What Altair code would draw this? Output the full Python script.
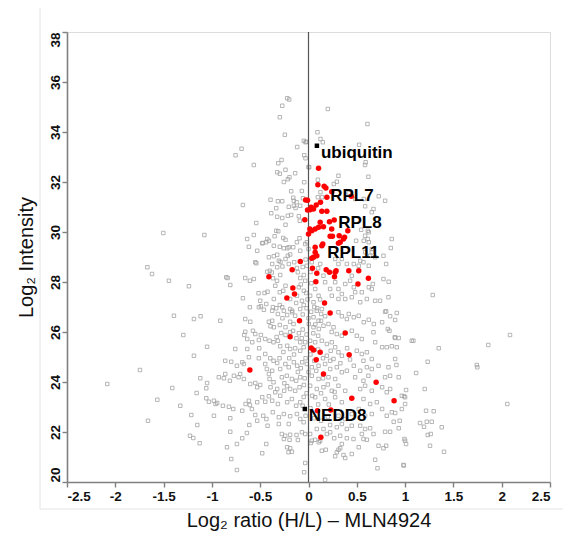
import altair as alt
import pandas as pd

# ---------------- data (log2 ratio, log2 intensity) ----------------
gray_far_left = [
    (-1.668, 28.59), (-1.62, 28.32), (-1.445, 28.05), (-1.238, 27.83), (-1.393, 26.65),
    (-1.186, 26.52), (-1.117, 26.63), (-0.913, 26.45), (-1.296, 25.88), (-1.05, 25.41),
    (-1.186, 25.05), (-1.745, 24.48), (-2.083, 23.92), (-1.41, 23.76), (-1.565, 23.29),
    (-1.327, 23.05), (-1.662, 22.45), (-1.213, 22.68), (-1.151, 22.28), (-1.227, 21.85),
    (-1.193, 21.76), (-1.127, 21.55), (-1.158, 23.56), (-1.05, 23.96), (-1.031, 23.21),
    (-0.962, 23.12), (-0.979, 22.65), (-0.741, 24.65), (-0.634, 25.72), (-0.582, 25.59),
    (-0.655, 26.52), (-0.837, 28.16),
]
gray_top = [
    (-0.22, 35.35), (-0.2, 35.3), (-0.272, 35.05), (-0.297, 34.59), (-0.245, 33.89),
    (-0.117, 33.4), (-0.693, 33.33), (-0.755, 33.07), (-0.566, 32.68), (-0.313, 32.75),
    (-0.279, 32.88), (-0.238, 32.49), (-0.324, 32.39), (-0.297, 32.33), (-0.197, 32.19),
    (-0.214, 32.11), (-0.255, 32.0), (-0.179, 31.63), (-0.158, 31.37), (-0.152, 31.25),
    (-0.393, 31.29), (-0.317, 31.23), (-0.272, 31.23), (-0.679, 31.08), (-0.334, 30.95),
    (-0.204, 31.01), (-0.134, 30.96), (-0.386, 30.75), (-0.324, 30.61), (-0.272, 30.56),
    (-0.214, 30.65), (-0.179, 30.68), (-0.238, 30.29), (-0.1, 30.63), (-0.541, 30.36),
    (-1.503, 29.96), (-1.078, 29.88), (-0.566, 29.88), (-0.635, 29.72), (-0.617, 29.41),
    (-0.531, 29.25), (-0.479, 29.55), (-0.437, 29.59), (-0.427, 29.72), (-0.334, 30.05),
    (-0.313, 30.03), (-0.351, 29.83), (-0.262, 29.76), (-0.238, 29.69), (-0.359, 29.45),
    (-0.297, 29.41), (-0.255, 29.35), (-0.22, 29.35), (-0.158, 29.39), (-0.093, 29.75),
    (-0.551, 28.79), (-0.54, 28.75), (-0.41, 28.99), (-0.359, 29.03), (-0.324, 29.09),
    (-0.307, 28.85), (-0.29, 28.8), (-0.214, 29.05), (-0.19, 29.1), (-0.148, 28.79),
    (-0.427, 28.41), (-0.4, 28.45), (-0.38, 28.38), (-0.324, 28.59), (-0.27, 28.62),
]
gray_top_right = [
    (-0.049, 33.65), (-0.031, 33.59), (-0.031, 32.95), (-0.044, 31.99), (0.0, 32.6),
    (-0.069, 31.64), (-0.058, 31.35), (0.2, 34.92), (0.61, 34.32), (0.093, 33.99),
    (0.124, 33.72), (0.148, 33.59), (0.524, 33.49), (-0.024, 33.61), (0.592, 32.79),
    (0.585, 32.68), (0.007, 32.59), (0.31, 32.25), (0.62, 32.21), (0.293, 32.01),
    (0.262, 31.92), (0.097, 32.09), (0.124, 31.59), (0.141, 31.39), (0.097, 31.39),
    (0.483, 31.32), (0.572, 31.32), (0.727, 31.43), (0.793, 31.25), (0.417, 31.56),
    (-0.044, 33.07), (-0.138, 32.35), (0.862, 29.72), (0.852, 29.36), (0.804, 28.72),
    (0.614, 30.05), (0.613, 29.72), (0.655, 29.32), (0.638, 29.05), (0.493, 29.65),
]
gray_mid_left = [
    (-0.152, 31.05), (-0.124, 31.19), (-0.086, 31.05), (-0.09, 30.45), (-0.41, 29.65),
    (-0.472, 29.56), (-0.204, 29.39), (-0.12, 29.59), (-0.034, 29.52), (-0.086, 29.25),
    (-0.376, 28.72), (-0.238, 28.92), (-0.204, 28.72), (-0.12, 28.56), (-0.11, 28.39),
    (-0.851, 28.19), (-0.81, 27.88), (-0.655, 28.16), (-0.607, 28.05), (-0.566, 28.12),
    (-0.368, 28.15), (-0.326, 28.05), (-0.344, 27.85), (-0.293, 28.28), (-0.086, 28.16),
    (-0.034, 28.05), (-0.048, 28.28), (-0.238, 27.85), (-0.262, 27.65), (-0.297, 27.59),
    (-0.1, 27.79), (-0.048, 27.65), (-0.024, 27.56), (-0.517, 27.55), (-0.424, 27.61),
    (-0.455, 27.56), (-0.679, 27.35), (-0.5, 27.25), (-0.493, 27.03), (-0.437, 27.12),
    (-0.359, 27.32), (-0.297, 27.08), (-0.272, 26.99), (-0.368, 26.99), (-0.334, 26.95),
    (-0.19, 27.32), (-0.128, 27.16), (-0.068, 27.25), (-0.05, 27.08), (-0.19, 26.92),
    (-0.17, 26.85), (-0.086, 26.92), (-0.514, 26.99), (-0.607, 26.99),
]
gray_low_left = [
    (-0.603, 26.41), (-0.462, 26.89), (-0.376, 26.85), (-0.317, 26.72), (-0.255, 26.85),
    (-0.221, 26.68), (-0.169, 26.79), (-0.138, 26.65), (-0.41, 26.41), (-0.376, 26.45),
    (-0.297, 26.28), (-0.393, 26.23), (-0.359, 26.19), (-0.19, 26.41), (-0.155, 26.32),
    (-0.238, 26.19), (-0.655, 26.01), (-0.575, 26.05), (-0.551, 25.92), (-0.665, 25.88),
    (-0.493, 25.88), (-0.448, 25.72), (-0.514, 25.68), (-0.403, 25.65), (-0.362, 25.59),
    (-0.317, 25.65), (-0.283, 25.96), (-0.238, 25.88), (-0.19, 25.99), (-0.124, 25.75),
    (-0.086, 25.59), (-0.034, 25.59), (-0.05, 25.39), (-0.086, 25.25), (-0.293, 25.43),
    (-0.221, 25.45), (-0.19, 25.32), (-0.138, 25.35), (-0.758, 25.32), (-0.634, 25.32),
    (-0.51, 25.35), (-0.617, 24.99), (-0.514, 24.95), (-0.862, 24.85), (-0.8, 24.81),
    (-0.686, 24.79), (-0.669, 24.72), (-0.448, 25.12), (-0.396, 24.95), (-0.362, 24.85),
    (-0.324, 24.76), (-0.448, 24.72), (-0.431, 24.52), (-0.376, 24.45), (-0.41, 24.32),
    (-0.293, 24.52), (-0.24, 24.72), (-0.204, 24.59), (-0.152, 24.79), (-0.117, 24.65),
    (-0.065, 24.79), (-0.707, 24.32), (-0.724, 24.19), (-0.669, 24.12), (-0.772, 24.25),
    (-0.862, 24.32), (-0.876, 24.15), (-0.928, 24.19), (-0.814, 24.05), (-1.12, 24.15),
    (-1.058, 23.75), (-0.603, 23.92), (-0.551, 23.96), (-0.531, 23.79), (-0.5, 23.88),
    (-0.403, 24.12), (-0.362, 23.99), (-0.393, 23.79), (-0.324, 23.72), (-0.276, 24.19),
    (-0.224, 24.25), (-0.172, 24.12), (-0.128, 24.05), (-0.086, 24.19), (-0.221, 23.83),
    (-0.19, 23.72), (-0.138, 23.65), (-0.093, 23.79), (-0.048, 23.88), (-1.058, 23.35),
    (-0.979, 23.25), (-0.945, 23.16), (-0.886, 23.05), (-0.824, 23.01), (-0.779, 22.92),
    (-0.686, 22.85), (-0.617, 23.25), (-0.607, 23.08), (-0.651, 23.12), (-0.531, 23.19),
    (-0.479, 23.39), (-0.448, 23.21), (-0.41, 23.43), (-0.376, 23.25), (-0.344, 23.59),
    (-0.293, 23.45), (-0.252, 23.65), (-0.317, 23.12), (-0.221, 23.19), (-0.172, 23.32),
    (-0.128, 23.05), (-0.086, 23.19), (-0.81, 22.55), (-0.586, 22.92), (-0.551, 22.68),
    (-0.469, 22.65), (-0.436, 22.52), (-0.369, 22.79), (-0.307, 22.59), (-0.255, 22.72),
    (-0.19, 22.63), (-0.12, 22.72), (-0.086, 22.52),
]
gray_bottom = [
    (-0.81, 22.01), (-0.686, 21.75), (-0.638, 21.96), (-0.844, 21.39), (-0.741, 21.52),
    (-0.8, 20.92), (-0.741, 20.48), (-0.613, 22.28), (-0.531, 22.45), (-0.424, 22.25),
    (-0.437, 21.52), (-0.479, 21.15), (-0.307, 22.32), (-0.204, 22.32), (-0.276, 21.92),
    (-0.241, 21.85), (-0.19, 21.89), (-0.255, 21.72), (-0.196, 21.69), (-0.11, 21.68),
    (-0.124, 21.88), (-0.221, 21.39), (-0.19, 21.35), (-0.207, 21.19), (-0.172, 21.21),
    (-0.05, 22.39), (-0.068, 21.99), (-0.034, 21.92), (-0.034, 20.76), (-0.045, 20.39),
    (0.017, 21.92), (0.034, 21.65), (0.069, 21.69), (0.024, 21.56), (0.107, 21.59),
    (0.121, 21.65), (0.172, 20.09), (0.086, 22.12), (0.155, 22.12), (0.19, 21.92),
    (0.224, 21.99), (0.138, 21.25), (0.179, 21.29), (0.31, 21.29), (0.328, 21.35),
    (0.293, 21.19), (0.276, 21.03), (0.362, 21.08), (0.38, 20.96), (0.448, 21.12),
    (0.52, 21.39), (0.224, 22.28), (0.293, 22.19), (0.345, 22.32), (0.397, 22.12),
    (0.448, 22.25), (0.266, 21.75), (0.328, 21.85), (0.397, 21.75), (0.345, 21.52),
    (0.466, 21.72), (0.535, 22.25), (0.586, 22.12), (0.638, 22.15), (0.552, 21.92),
    (0.569, 21.72), (0.604, 21.69), (0.673, 21.92), (0.725, 21.45), (0.776, 21.35),
    (0.69, 20.89), (0.714, 20.55), (0.793, 22.01), (0.845, 22.01), (0.934, 22.15),
    (0.882, 22.41), (0.944, 22.45), (1.0, 21.65), (1.01, 21.52), (0.986, 20.66),
    (1.155, 22.36), (1.234, 21.88),
]
gray_low_right = [
    (0.028, 26.81), (0.086, 26.85), (0.131, 26.72), (0.172, 26.63), (0.052, 26.59),
    (0.104, 26.45), (0.31, 26.79), (0.345, 26.63), (0.417, 26.72), (0.469, 26.59),
    (0.52, 26.65), (0.397, 26.52), (0.572, 26.39), (0.624, 26.49), (0.676, 26.32),
    (0.762, 26.39), (0.793, 26.81), (0.003, 26.32), (0.052, 26.19), (0.107, 26.12),
    (0.155, 26.25), (0.207, 26.32), (0.259, 26.19), (0.293, 25.92), (0.345, 25.85),
    (0.448, 26.05), (0.5, 25.85), (0.552, 25.72), (0.69, 25.59), (0.762, 25.39),
    (0.81, 25.39), (0.862, 25.43), (0.673, 25.99), (0.893, 25.79), (1.069, 25.65),
    (0.914, 25.39), (0.017, 25.65), (0.069, 25.59), (0.138, 25.65), (0.19, 25.52),
    (0.241, 25.59), (0.276, 25.39), (0.31, 25.19), (0.345, 25.05), (0.5, 25.25),
    (0.552, 25.12), (0.604, 25.19), (0.655, 24.92), (0.569, 24.85), (0.19, 25.05),
    (0.224, 24.85), (0.259, 24.92), (-0.017, 24.72), (0.034, 24.59), (0.104, 24.65),
    (0.172, 24.72), (0.224, 24.52), (0.293, 24.59), (0.345, 24.39), (0.397, 24.45),
    (0.469, 24.65), (0.535, 24.45), (0.604, 24.59), (0.655, 24.52), (0.725, 24.65),
    (0.828, 24.59), (0.897, 24.92), (0.034, 24.25), (0.104, 24.12), (0.207, 24.19),
    (0.276, 24.12), (0.483, 24.19), (0.569, 24.05), (0.62, 24.25), (0.793, 24.19),
    (0.845, 24.25), (0.017, 23.85), (0.086, 23.72), (0.155, 23.79), (0.241, 23.65),
    (0.31, 23.85), (0.38, 23.65), (0.535, 23.72), (0.586, 23.85), (0.655, 23.65),
    (0.762, 23.79), (0.81, 23.59), (0.845, 23.72), (0.966, 23.45), (1.0, 23.39),
    (0.069, 23.39), (0.172, 23.32), (0.276, 23.39), (0.345, 23.19), (0.569, 23.32),
    (0.638, 23.12), (0.707, 23.19), (0.52, 22.92), (0.586, 22.65), (0.655, 22.72),
    (0.762, 22.92), (0.81, 22.65), (0.862, 22.79), (0.966, 22.92), (0.31, 22.65),
    (0.38, 22.52), (0.448, 22.72),
]
gray_far_right = [
    (1.286, 27.48), (0.83, 28.01), (0.69, 27.25), (0.741, 27.25), (0.666, 27.92),
    (0.624, 27.79), (0.804, 26.83), (0.914, 26.76), (0.845, 26.63), (0.897, 26.48),
    (0.821, 26.12), (0.838, 26.05), (0.897, 25.76), (0.934, 25.76), (1.086, 25.65),
    (1.348, 25.35), (1.861, 25.48), (2.086, 25.88), (1.234, 24.81), (0.91, 24.68),
    (1.742, 24.68), (1.748, 24.59), (1.114, 24.36), (0.934, 24.19), (1.01, 23.68),
    (1.203, 23.72), (0.99, 23.43), (2.058, 23.12), (1.0, 23.12), (1.217, 22.85),
    (1.296, 22.83), (0.897, 22.76), (1.224, 22.41), (1.276, 22.41), (1.379, 22.19),
    (1.196, 22.21), (1.265, 21.92), (0.993, 21.72), (1.258, 21.45), (1.403, 21.21),
    (0.804, 21.45), (0.983, 20.68),
]
gray_center_right = [
    (0.586, 31.03), (0.673, 30.92), (0.655, 30.79), (0.545, 30.09), (0.624, 29.99),
    (0.586, 29.85), (0.572, 29.65), (0.624, 29.59), (0.776, 29.05), (0.69, 28.99),
    (0.655, 29.19), (0.569, 28.79), (0.624, 28.65), (0.52, 28.65), (0.776, 28.12),
    (0.828, 27.39), (0.655, 27.72), (0.552, 27.59), (0.604, 27.32), (0.535, 27.19),
    (0.448, 27.39), (0.31, 27.72), (0.345, 27.52), (0.38, 27.32), (0.31, 27.32),
    (0.241, 27.45), (-0.017, 29.59), (0.0, 29.32), (0.034, 28.79), (-0.017, 28.65),
    (0.121, 28.72), (0.155, 28.25), (0.172, 27.99), (0.069, 27.72), (0.104, 27.45),
    (0.224, 27.72), (0.017, 27.45), (0.052, 27.19), (0.138, 26.92), (0.276, 27.99),
    (0.38, 27.92), (0.431, 28.05), (0.469, 27.79), (0.483, 27.59), (0.448, 28.25),
    (0.345, 28.92), (0.31, 28.72), (0.276, 28.92), (0.397, 28.72), (0.469, 28.72),
    (0.586, 29.19), (0.535, 28.85),
]
gray_core = [
    (-0.06, 28.6), (0.02, 28.4), (-0.03, 28.9), (0.1, 28.55), (-0.08, 27.9),
    (0.03, 27.95), (-0.01, 27.3), (0.06, 27.0), (-0.06, 26.7), (0.0, 26.55),
    (0.09, 26.95), (-0.12, 27.45), (0.12, 27.3), (-0.02, 26.95), (-0.02, 25.9),
    (0.05, 25.95), (-0.06, 26.1), (0.1, 25.85), (-0.1, 25.95), (0.02, 25.1),
    (-0.03, 24.95), (0.06, 24.85), (-0.08, 24.55), (0.0, 24.4), (0.08, 24.45),
    (-0.04, 24.15), (0.15, 24.95), (-0.15, 25.1), (-0.02, 23.55), (0.04, 23.45),
    (-0.06, 23.05), (0.02, 22.95), (0.1, 23.1), (-0.03, 22.65), (0.06, 22.55),
    (0.13, 22.45), (0.2, 22.6), (0.13, 23.55), (0.21, 23.1), (-0.16, 26.05),
    (-0.27, 26.55), (-0.33, 25.8), (-0.26, 25.2), (-0.3, 24.95), (-0.2, 24.95),
    (-0.11, 24.4), (-0.25, 23.95), (-0.05, 23.4), (0.2, 23.9), (0.27, 23.6),
    (0.23, 25.25), (0.33, 24.75), (0.4, 25.35), (0.43, 24.9), (0.13, 26.45),
    (0.24, 26.0), (0.07, 26.3), (-0.07, 25.75), (0.1, 25.3), (0.15, 24.15),
]
red_points = [
    (0.104, 32.55), (0.097, 31.89), (0.162, 31.83), (0.18, 31.76), (0.241, 31.61),
    (0.19, 31.39), (0.124, 31.19), (-0.03, 31.28), (-0.01, 31.27), (0.443, 31.43),
    (0.08, 31.08), (0.028, 30.99), (0.052, 30.92), (0.017, 30.89), (-0.01, 30.88),
    (0.138, 30.83), (0.19, 30.83), (-0.038, 30.49), (0.121, 30.39), (0.217, 30.41),
    (0.266, 30.48), (0.407, 30.05), (0.014, 30.12), (0.034, 30.05), (0.069, 30.12),
    (0.104, 30.19), (0.155, 30.21), (0.0, 29.92), (0.24, 30.12), (0.248, 29.83),
    (0.318, 29.85), (0.362, 29.72), (0.373, 29.79), (0.328, 29.59), (0.31, 29.55),
    (0.224, 29.83), (0.069, 29.39), (0.138, 29.45), (0.148, 29.52), (0.052, 28.99),
    (0.086, 29.05), (0.069, 29.19), (0.034, 28.95), (-0.085, 28.82), (-0.169, 28.49),
    (0.041, 28.55), (0.183, 28.49), (0.276, 28.39), (0.269, 28.21), (0.417, 28.45),
    (0.52, 28.45), (0.62, 28.15), (-0.41, 28.21), (0.076, 28.01), (0.512, 27.92),
    (0.286, 28.45), (0.217, 28.39), (0.086, 28.35), (-0.162, 27.76), (-0.145, 27.52),
    (-0.224, 27.36), (0.166, 27.16), (0.224, 26.76), (-0.093, 26.45), (0.38, 25.96),
    (-0.19, 25.81), (0.028, 25.36), (0.052, 25.28), (0.121, 25.19), (0.08, 24.89),
    (0.421, 25.09), (0.155, 24.32), (0.70, 23.99), (0.448, 23.35), (0.886, 23.25),
    (0.093, 22.85), (0.231, 22.88), (0.128, 21.79), (-0.607, 24.48),
]
marked_names = ["ubiquitin", "NEDD8"]
marked_x = [0.087, -0.038]
marked_y = [33.45, 22.92]
label_names = ["ubiquitin", "RPL7", "RPL8", "RPL11", "NEDD8"]
label_x = [0.087, 0.183, 0.266, 0.152, -0.038]
label_y = [33.45, 31.72, 30.66, 29.46, 22.92]
x_ticks = [-2.5, -2, -1.5, -1, -0.5, 0, 0.5, 1, 1.5, 2, 2.5]
y_ticks = [20, 22, 24, 26, 28, 30, 32, 34, 36, 38]

gray_all = (gray_far_left + gray_top + gray_top_right + gray_mid_left + gray_low_left
            + gray_bottom + gray_low_right + gray_far_right + gray_center_right + gray_core)
gray_df = pd.DataFrame(gray_all, columns=["ratio", "intensity"])
red_df = pd.DataFrame(red_points, columns=["ratio", "intensity"])
mark_df = pd.DataFrame({"name": marked_names, "ratio": marked_x, "intensity": marked_y})
lab_df = pd.DataFrame({"name": label_names, "ratio": label_x, "intensity": label_y})
zero_df = pd.DataFrame({"ratio": [0.0]})

FONT = "Liberation Sans"

xscale = alt.Scale(domain=[-2.5, 2.5], nice=False, zero=False)
yscale = alt.Scale(domain=[20, 38], nice=False, zero=False)

x_axis = alt.Axis(
    values=x_ticks, labelExpr="'' + datum.value", grid=False,
    title="Log\u2082 ratio (H/L) \u2013 MLN4924",
    titleFont=FONT, titleFontSize=20, titleFontWeight="normal", titleColor="#111111",
    titlePadding=8,
    labelFont=FONT, labelFontSize=13.5, labelFontWeight="bold", labelColor="#111111",
    labelFlush=True, labelPadding=2,
    domainColor="#808080", domainWidth=1.6, tickColor="#808080", tickWidth=1.4, tickSize=5,
)
y_axis = alt.Axis(
    values=y_ticks, grid=False, title="Log\u2082 Intensity",
    titleFont=FONT, titleFontSize=20, titleFontWeight="normal", titleColor="#111111",
    titlePadding=12,
    labelFont=FONT, labelFontSize=13.5, labelFontWeight="bold", labelColor="#111111",
    labelAngle=270, labelBaseline="alphabetic", labelPadding=3,
    labelAlign=alt.ExprRef(expr="datum.value == 20 ? 'left' : (datum.value == 38 ? 'right' : 'center')"),
    domainColor="#808080", domainWidth=1.6, tickColor="#808080", tickWidth=1.4, tickSize=5,
)

X = alt.X("ratio:Q", scale=xscale, axis=x_axis)
Y = alt.Y("intensity:Q", scale=yscale, axis=y_axis)

frame = alt.Chart(zero_df).mark_rect(fill=None, stroke="#e4e4e4", strokeWidth=1).encode(
    x=alt.value(-27), x2=alt.value(620), y=alt.value(-27), y2=alt.value(477)
)
gray = alt.Chart(gray_df).mark_point(
    shape="square", filled=False, size=12, stroke="#a3a3a3", strokeWidth=0.8, opacity=1
).encode(x=X, y=Y)
zero_line = alt.Chart(zero_df).mark_rule(color="#555555", strokeWidth=1.2).encode(
    x=alt.X("ratio:Q", scale=xscale)
)
red = alt.Chart(red_df).mark_point(
    shape="circle", filled=True, size=30, color="#ff0000", opacity=1
).encode(x="ratio:Q", y="intensity:Q")
black = alt.Chart(mark_df).mark_point(
    shape="square", filled=True, size=20, color="#000000", opacity=1
).encode(x="ratio:Q", y="intensity:Q")
labels = alt.Chart(lab_df).mark_text(
    align="left", baseline="middle", dx=4, dy=7, font=FONT, fontSize=17,
    fontWeight="bold", color="#000000"
).encode(x="ratio:Q", y="intensity:Q", text="name:N")

chart = alt.layer(frame, gray, zero_line, red, black, labels).properties(
    width=483, height=450,
    autosize=alt.AutoSizeParams(type="none"),
    padding={"left": 59, "top": 24, "right": 13, "bottom": 57},
).configure_view(stroke=None).configure(background="white")

chart.save("out.html", embed_options={"renderer": "svg", "actions": False})
